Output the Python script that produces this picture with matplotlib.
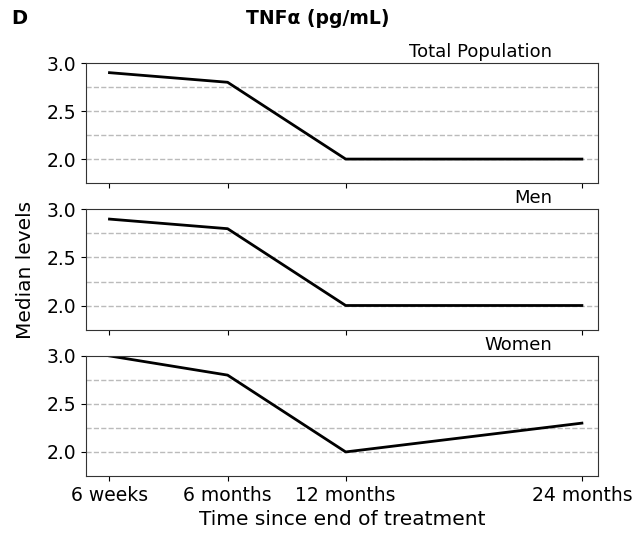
import numpy as np
import matplotlib
matplotlib.use('Agg')
import matplotlib.pyplot as plt

# positions of the time points on the x axis
time_labels = ['6 weeks', '6 months', '12 months', '24 months']
time_pos = [0, 1, 2, 4]

groups = ['Total Population', 'Men', 'Women']
total_pop = [2.9, 2.8, 2.0, 2.0]
men = [2.9, 2.8, 2.0, 2.0]
women = [3.0, 2.8, 2.0, 2.3]
series = [total_pop, men, women]

fig, axes = plt.subplots(3, 1, figsize=(6.36, 5.39), dpi=100, sharex=True)
fig.subplots_adjust(left=0.135, right=0.94, top=0.883, bottom=0.117, hspace=0.22)

for ax, name, vals in zip(axes, groups, series):
    for y in [2.0, 2.25, 2.5, 2.75]:
        ax.axhline(y, color='#bbbbbb', ls='--', lw=1, zorder=0)
    ax.plot(time_pos, vals, color='black', lw=2)
    ax.set_ylim(1.75, 3.0)
    ax.set_yticks([2.0, 2.5, 3.0])
    ax.set_xlim(-0.2, 4.135)
    ax.tick_params(labelsize=13.5)
    ax.text(0.91, 1.02, name, transform=ax.transAxes, ha='right', va='bottom', fontsize=13)
    for s in ax.spines.values():
        s.set_color('#333333')

axes[-1].set_xticks(time_pos)
axes[-1].set_xticklabels(time_labels)
axes[-1].set_xlabel('Time since end of treatment', fontsize=14.5)
fig.text(0.04, 0.5, 'Median levels', rotation=90, va='center', ha='center', fontsize=14.5)

fig.text(0.5, 0.965, 'TNFα (pg/mL)', ha='center', va='center', fontsize=13.5, fontweight='bold')
fig.text(0.03, 0.965, 'D', ha='center', va='center', fontsize=14, fontweight='bold')

plt.savefig('out.png', dpi=100)
